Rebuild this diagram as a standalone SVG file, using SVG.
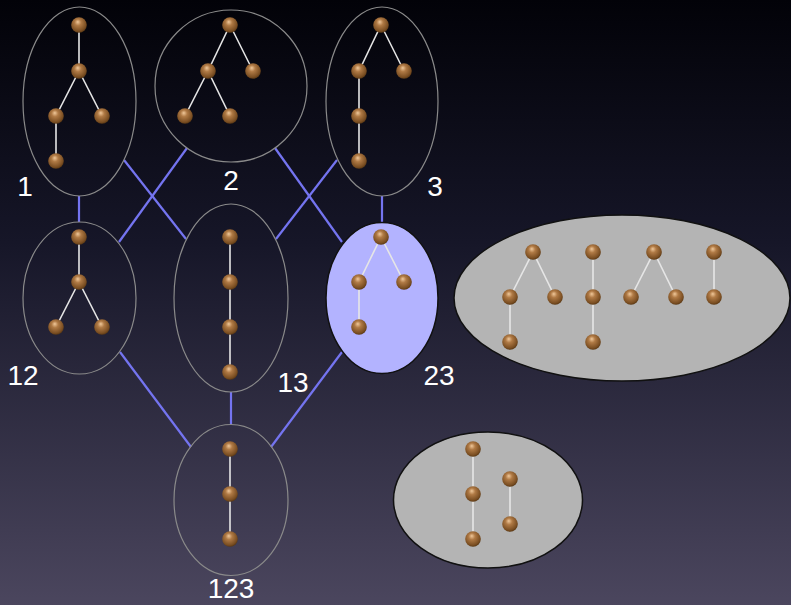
<svg xmlns="http://www.w3.org/2000/svg" width="791" height="605" viewBox="0 0 791 605">
<defs>
<linearGradient id="bg" x1="0" y1="0" x2="0" y2="1">
<stop offset="0" stop-color="#020208"/>
<stop offset="0.4" stop-color="#161628"/>
<stop offset="1" stop-color="#4b465e"/>
</linearGradient>
<radialGradient id="ball" cx="0.45" cy="0.4" r="0.6" fx="0.42" fy="0.3">
<stop offset="0" stop-color="#f0c89a"/>
<stop offset="0.35" stop-color="#b07a45"/>
<stop offset="0.85" stop-color="#7a4e22"/>
<stop offset="1" stop-color="#5a3814"/>
</radialGradient>
<symbol id="b" overflow="visible"><circle r="7.8" fill="url(#ball)"/></symbol>
</defs>
<style>
.set{fill:none;stroke:#8a8a8a;stroke-width:1.2}
.hl{fill:#b3b3ff;stroke:#111;stroke-width:1.5}
.grey{fill:#b4b4b4;stroke:#111;stroke-width:1.5}
.e{stroke:#e6e6e6;stroke-width:1.6}
.c{stroke:#7474f0;stroke-width:2.2}
.lbl{fill:#fff;font-family:"Liberation Sans",Arial,sans-serif;font-size:28px;text-anchor:middle}
</style>
<rect width="791" height="605" fill="url(#bg)"/>
<g id="connectors">
<line class="c" x1="79" y1="196" x2="79" y2="222"/>
<line class="c" x1="124" y1="160" x2="186" y2="239"/>
<line class="c" x1="187" y1="148" x2="119" y2="242"/>
<line class="c" x1="275" y1="148" x2="342" y2="242"/>
<line class="c" x1="337" y1="160" x2="276" y2="239"/>
<line class="c" x1="382" y1="196" x2="382" y2="222"/>
<line class="c" x1="120" y1="352" x2="191" y2="447"/>
<line class="c" x1="231" y1="392" x2="231" y2="425"/>
<line class="c" x1="342" y1="352" x2="271" y2="447"/>
</g>
<g id="node-1">
<ellipse class="set" cx="79.5" cy="101.5" rx="56.5" ry="94.5"/>
<line class="e" x1="79" y1="25" x2="79" y2="71"/><line class="e" x1="79" y1="71" x2="56" y2="116"/><line class="e" x1="79" y1="71" x2="102" y2="116"/><line class="e" x1="56" y1="116" x2="56" y2="161"/>
<use href="#b" x="79" y="25"/><use href="#b" x="79" y="71"/><use href="#b" x="56" y="116"/><use href="#b" x="102" y="116"/><use href="#b" x="56" y="161"/>
<text class="lbl" x="25" y="196">1</text>
</g>
<g id="node-2">
<circle class="set" cx="231" cy="86" r="76"/>
<line class="e" x1="230" y1="25" x2="208" y2="71"/><line class="e" x1="230" y1="25" x2="253" y2="71"/><line class="e" x1="208" y1="71" x2="185" y2="116"/><line class="e" x1="208" y1="71" x2="230" y2="116"/>
<use href="#b" x="230" y="25"/><use href="#b" x="208" y="71"/><use href="#b" x="253" y="71"/><use href="#b" x="185" y="116"/><use href="#b" x="230" y="116"/>
<text class="lbl" x="231" y="190">2</text>
</g>
<g id="node-3">
<ellipse class="set" cx="382" cy="101.5" rx="56" ry="94.5"/>
<line class="e" x1="381" y1="25" x2="359" y2="71"/><line class="e" x1="381" y1="25" x2="404" y2="71"/><line class="e" x1="359" y1="71" x2="359" y2="116"/><line class="e" x1="359" y1="116" x2="359" y2="161"/>
<use href="#b" x="381" y="25"/><use href="#b" x="359" y="71"/><use href="#b" x="404" y="71"/><use href="#b" x="359" y="116"/><use href="#b" x="359" y="161"/>
<text class="lbl" x="435" y="196">3</text>
</g>
<g id="node-12">
<ellipse class="set" cx="79.5" cy="298" rx="56.5" ry="76"/>
<line class="e" x1="79" y1="237" x2="79" y2="282"/><line class="e" x1="79" y1="282" x2="56" y2="327"/><line class="e" x1="79" y1="282" x2="102" y2="327"/>
<use href="#b" x="79" y="237"/><use href="#b" x="79" y="282"/><use href="#b" x="56" y="327"/><use href="#b" x="102" y="327"/>
<text class="lbl" x="23" y="385">12</text>
</g>
<g id="node-13">
<ellipse class="set" cx="231" cy="298" rx="57" ry="94"/>
<line class="e" x1="230" y1="237" x2="230" y2="372"/>
<use href="#b" x="230" y="237"/><use href="#b" x="230" y="282"/><use href="#b" x="230" y="327"/><use href="#b" x="230" y="372"/>
<text class="lbl" x="293" y="392">13</text>
</g>
<g id="node-23">
<ellipse class="hl" cx="382" cy="298" rx="56" ry="75.5"/>
<line class="e" x1="381" y1="237" x2="359" y2="282"/><line class="e" x1="381" y1="237" x2="404" y2="282"/><line class="e" x1="359" y1="282" x2="359" y2="327"/>
<use href="#b" x="381" y="237"/><use href="#b" x="359" y="282"/><use href="#b" x="404" y="282"/><use href="#b" x="359" y="327"/>
<text class="lbl" x="439" y="385">23</text>
</g>
<g id="node-123">
<ellipse class="set" cx="231" cy="500" rx="57" ry="75.5"/>
<line class="e" x1="230" y1="449" x2="230" y2="539"/>
<use href="#b" x="230" y="449"/><use href="#b" x="230" y="494"/><use href="#b" x="230" y="539"/>
<text class="lbl" x="231" y="598">123</text>
</g>
<g id="grey-set-large">
<ellipse class="grey" cx="622" cy="298" rx="168" ry="83"/>
<line class="e" x1="533" y1="252" x2="510" y2="297"/><line class="e" x1="533" y1="252" x2="555" y2="297"/><line class="e" x1="510" y1="297" x2="510" y2="342"/>
<line class="e" x1="593" y1="252" x2="593" y2="342"/>
<line class="e" x1="654" y1="252" x2="631" y2="297"/><line class="e" x1="654" y1="252" x2="676" y2="297"/>
<line class="e" x1="714" y1="252" x2="714" y2="297"/>
<use href="#b" x="533" y="252"/><use href="#b" x="510" y="297"/><use href="#b" x="555" y="297"/><use href="#b" x="510" y="342"/>
<use href="#b" x="593" y="252"/><use href="#b" x="593" y="297"/><use href="#b" x="593" y="342"/>
<use href="#b" x="654" y="252"/><use href="#b" x="631" y="297"/><use href="#b" x="676" y="297"/>
<use href="#b" x="714" y="252"/><use href="#b" x="714" y="297"/>
</g>
<g id="grey-set-small">
<ellipse class="grey" cx="488" cy="500" rx="94.5" ry="68"/>
<line class="e" x1="473" y1="449" x2="473" y2="539"/><line class="e" x1="510" y1="479" x2="510" y2="524"/>
<use href="#b" x="473" y="449"/><use href="#b" x="473" y="494"/><use href="#b" x="473" y="539"/>
<use href="#b" x="510" y="479"/><use href="#b" x="510" y="524"/>
</g>
</svg>
